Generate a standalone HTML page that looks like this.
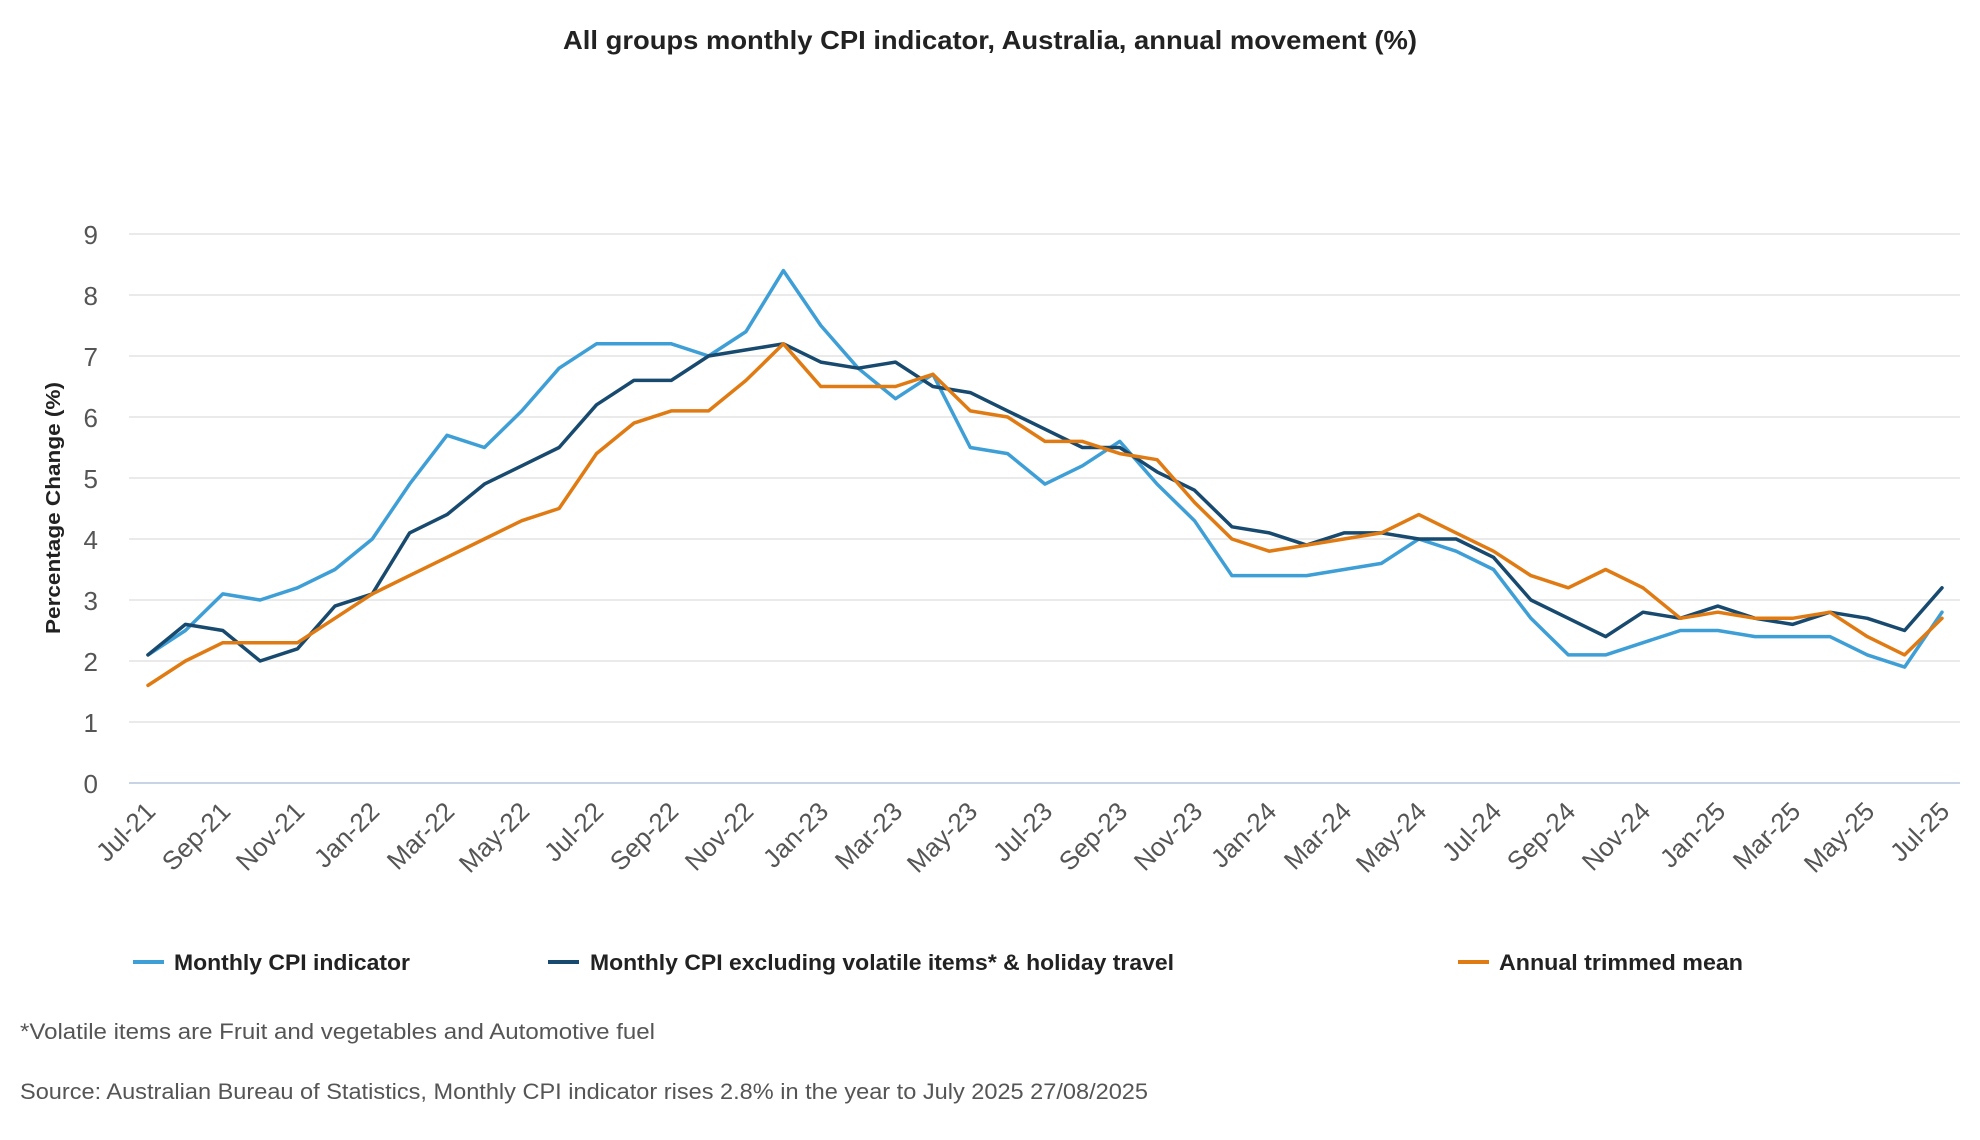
<!DOCTYPE html>
<html><head><meta charset="utf-8"><style>
html,body{margin:0;padding:0;background:#fff;}
svg{display:block;font-family:"Liberation Sans",sans-serif;}
</style></head><body>
<svg width="1980" height="1140" viewBox="0 0 1980 1140" xmlns="http://www.w3.org/2000/svg">
<text x="990" y="49" text-anchor="middle" font-size="26" font-weight="bold" fill="#222" textLength="854" lengthAdjust="spacingAndGlyphs">All groups monthly CPI indicator, Australia, annual movement (%)</text>
<g stroke="#e3e3e3" stroke-width="1.5">
<line x1="129" x2="1960" y1="234" y2="234"/><line x1="129" x2="1960" y1="295" y2="295"/>
<line x1="129" x2="1960" y1="356" y2="356"/><line x1="129" x2="1960" y1="417" y2="417"/>
<line x1="129" x2="1960" y1="478" y2="478"/><line x1="129" x2="1960" y1="539" y2="539"/>
<line x1="129" x2="1960" y1="600" y2="600"/><line x1="129" x2="1960" y1="661" y2="661"/>
<line x1="129" x2="1960" y1="722" y2="722"/>
</g>
<line x1="129" x2="1960" y1="783" y2="783" stroke="#c8d4e6" stroke-width="2"/>
<g font-size="26" fill="#555" text-anchor="end">
<text x="98" y="244">9</text><text x="98" y="305">8</text><text x="98" y="366">7</text>
<text x="98" y="427">6</text><text x="98" y="488">5</text><text x="98" y="549">4</text>
<text x="98" y="610">3</text><text x="98" y="671">2</text><text x="98" y="732">1</text>
<text x="98" y="793">0</text>
</g>
<text transform="translate(60,508) rotate(-90)" text-anchor="middle" font-size="20" font-weight="bold" fill="#222" textLength="252" lengthAdjust="spacingAndGlyphs">Percentage Change (%)</text>
<g fill="none" stroke-width="3.5" stroke-linejoin="round" stroke-linecap="round">
<polyline id="s1" stroke="#3e9fd6"/>
<polyline id="s2" stroke="#174a6e"/>
<polyline id="s3" stroke="#e07b13"/>
</g>
<line x1="133" x2="164" y1="962" y2="962" stroke="#3e9fd6" stroke-width="4"/>
<text x="174" y="970" font-size="22" font-weight="bold" fill="#222" textLength="236" lengthAdjust="spacingAndGlyphs">Monthly CPI indicator</text>
<line x1="548" x2="579" y1="962" y2="962" stroke="#174a6e" stroke-width="4"/>
<text x="590" y="970" font-size="22" font-weight="bold" fill="#222" textLength="584" lengthAdjust="spacingAndGlyphs">Monthly CPI excluding volatile items* &amp; holiday travel</text>
<line x1="1458" x2="1489" y1="962" y2="962" stroke="#e07b13" stroke-width="4"/>
<text x="1499" y="970" font-size="22" font-weight="bold" fill="#222" textLength="244" lengthAdjust="spacingAndGlyphs">Annual trimmed mean</text>
<text x="20" y="1039" font-size="22" fill="#555" textLength="635" lengthAdjust="spacingAndGlyphs">*Volatile items are Fruit and vegetables and Automotive fuel</text>
<text x="20" y="1099" font-size="22" fill="#555" textLength="1128" lengthAdjust="spacingAndGlyphs">Source: Australian Bureau of Statistics, Monthly CPI indicator rises 2.8% in the year to July 2025 27/08/2025</text>
<g font-size="26" fill="#555" text-anchor="end">
<text transform="translate(157,813) rotate(-45)">Jul-21</text>
<text transform="translate(232,813) rotate(-45)">Sep-21</text>
<text transform="translate(306,813) rotate(-45)">Nov-21</text>
<text transform="translate(381,813) rotate(-45)">Jan-22</text>
<text transform="translate(456,813) rotate(-45)">Mar-22</text>
<text transform="translate(531,813) rotate(-45)">May-22</text>
<text transform="translate(605,813) rotate(-45)">Jul-22</text>
<text transform="translate(680,813) rotate(-45)">Sep-22</text>
<text transform="translate(755,813) rotate(-45)">Nov-22</text>
<text transform="translate(830,813) rotate(-45)">Jan-23</text>
<text transform="translate(904,813) rotate(-45)">Mar-23</text>
<text transform="translate(979,813) rotate(-45)">May-23</text>
<text transform="translate(1054,813) rotate(-45)">Jul-23</text>
<text transform="translate(1129,813) rotate(-45)">Sep-23</text>
<text transform="translate(1204,813) rotate(-45)">Nov-23</text>
<text transform="translate(1278,813) rotate(-45)">Jan-24</text>
<text transform="translate(1353,813) rotate(-45)">Mar-24</text>
<text transform="translate(1428,813) rotate(-45)">May-24</text>
<text transform="translate(1503,813) rotate(-45)">Jul-24</text>
<text transform="translate(1577,813) rotate(-45)">Sep-24</text>
<text transform="translate(1652,813) rotate(-45)">Nov-24</text>
<text transform="translate(1727,813) rotate(-45)">Jan-25</text>
<text transform="translate(1802,813) rotate(-45)">Mar-25</text>
<text transform="translate(1876,813) rotate(-45)">May-25</text>
<text transform="translate(1951,813) rotate(-45)">Jul-25</text>
</g>
</svg>
<script>
var d={
s1:[2.1,2.5,3.1,3.0,3.2,3.5,4.0,4.9,5.7,5.5,6.1,6.8,7.2,7.2,7.2,7.0,7.4,8.4,7.5,6.8,6.3,6.7,5.5,5.4,4.9,5.2,5.6,4.9,4.3,3.4,3.4,3.4,3.5,3.6,4.0,3.8,3.5,2.7,2.1,2.1,2.3,2.5,2.5,2.4,2.4,2.4,2.1,1.9,2.8],
s2:[2.1,2.6,2.5,2.0,2.2,2.9,3.1,4.1,4.4,4.9,5.2,5.5,6.2,6.6,6.6,7.0,7.1,7.2,6.9,6.8,6.9,6.5,6.4,6.1,5.8,5.5,5.5,5.1,4.8,4.2,4.1,3.9,4.1,4.1,4.0,4.0,3.7,3.0,2.7,2.4,2.8,2.7,2.9,2.7,2.6,2.8,2.7,2.5,3.2],
s3:[1.6,2.0,2.3,2.3,2.3,2.7,3.1,3.4,3.7,4.0,4.3,4.5,5.4,5.9,6.1,6.1,6.6,7.2,6.5,6.5,6.5,6.7,6.1,6.0,5.6,5.6,5.4,5.3,4.6,4.0,3.8,3.9,4.0,4.1,4.4,4.1,3.8,3.4,3.2,3.5,3.2,2.7,2.8,2.7,2.7,2.8,2.4,2.1,2.7]};
for(var k in d){document.getElementById(k).setAttribute('points',d[k].map(function(v,i){return (148+i*37.375).toFixed(1)+','+(783-61*v).toFixed(1);}).join(' '));}
</script>
</body></html>
